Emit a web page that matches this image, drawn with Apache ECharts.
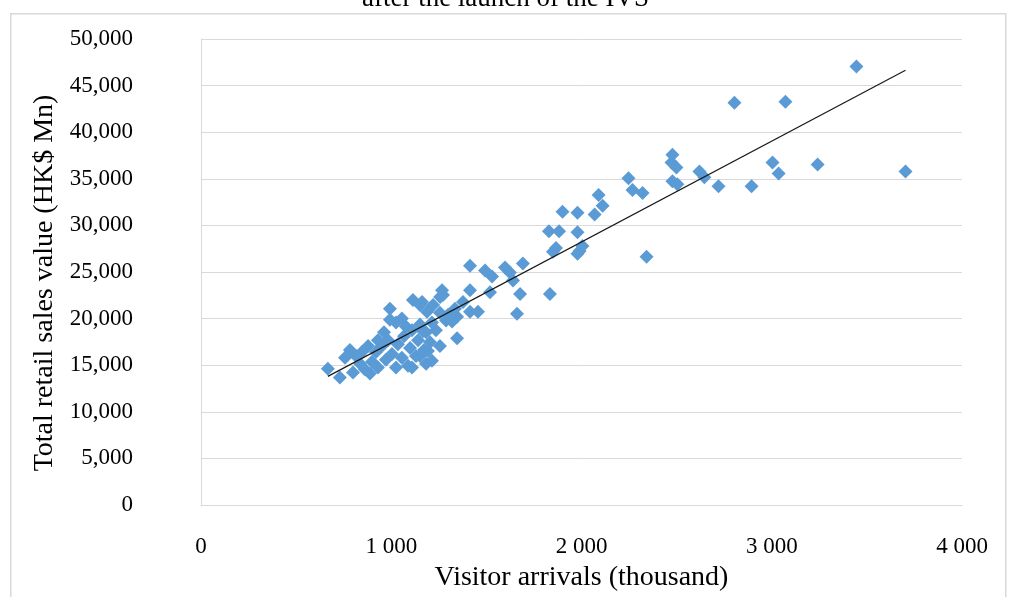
<!DOCTYPE html>
<html>
<head>
<meta charset="utf-8">
<script src="https://cdn.jsdelivr.net/npm/echarts@6/dist/echarts.min.js"></script>
<style>html,body{margin:0;padding:0;background:#fff}#c{width:1011px;height:597px}</style>
</head>
<body>
<div id="c"></div>
<script>
const chartTitle = "after the launch of the IVS";
const xAxisTitle = "Visitor arrivals (thousand)";
const yAxisTitle = "Total retail sales value (HK$ Mn)";
const xTicks = [0, 1000, 2000, 3000, 4000];
const yTicks = [0, 5000, 10000, 15000, 20000, 25000, 30000, 35000, 40000, 45000, 50000];

const visitorArrivals = [
  3445, 2804, 3072, 3703, 2478, 2473, 2499, 2478, 2504, 2620,
  2646, 2720, 2894, 3004, 3036, 3241, 2321, 2247, 2268, 2090,
  2111, 2069, 1900, 1979, 1829, 1882, 1979, 1866, 1850, 2005,
  1979, 1990, 2342, 1692, 1677, 1834, 1414, 1493, 1530, 1598,
  1624, 1640, 1661, 1519, 1414, 1267, 1257, 1335, 1377, 1414,
  1456, 1188, 1346, 1220, 1162, 1299, 1320, 1167, 1346, 1214,
  1193, 993, 993, 1114, 1151, 667, 730, 799, 1272,
  757, 783, 815, 836, 862, 888, 899, 930, 920, 951,
  972, 983, 1004, 1025, 1035, 1056, 1067, 1088, 1099, 1109,
  1130, 1141, 1151, 1172, 1183, 1204, 1214, 1235, 1256, 1025,
  1056, 1077, 962, 930, 878, 846, 1109, 1151, 1183, 1256,
  1288, 1319
];
const retailSales = [
  47050, 43160, 43260, 35790, 37580, 36740, 36210, 34740, 34420, 35790,
  35160, 34210, 34210, 36740, 35580, 36530, 33470, 35050, 33790, 33260,
  32100, 31160, 31470, 31370, 29370, 29370, 29260, 27580, 27160, 27790,
  26950, 27260, 26630, 25900, 22630, 22630, 25680, 25160, 24530, 25470,
  24950, 24100, 20530, 22840, 23050, 23050, 22320, 21050, 21790, 20740,
  20740, 20740, 20210, 21470, 21790, 20420, 19680, 18630, 17890, 15470,
  16530, 21050, 19890, 22000, 21470, 14630, 13680, 14210, 22530,
  15790, 16630, 16000, 15160, 14530, 14100, 15370, 14740, 16420, 17050,
  15580, 17680, 16210, 14740, 17260, 15790, 18100, 14950, 16840, 18740,
  16000, 17680, 19370, 16630, 18530, 17470, 19580, 18740, 20630, 19580,
  20000, 19160, 18530, 17680, 17050, 16420, 14740, 16000, 15160, 17050,
  19790, 20000
];

const points = visitorArrivals.map((v, i) => [v, retailSales[i]]);

// linear trendline (least squares) over the data range
const n = points.length;
let sx = 0, sy = 0, sxx = 0, sxy = 0;
points.forEach(([x, y]) => { sx += x; sy += y; sxx += x * x; sxy += x * y; });
const slope = (n * sxy - sx * sy) / (n * sxx - sx * sx);
const intercept = (sy - slope * sx) / n;
const xMin = Math.min(...visitorArrivals), xMax = Math.max(...visitorArrivals);
const trend = [[xMin, intercept + slope * xMin], [xMax, intercept + slope * xMax]];

const chart = echarts.init(document.getElementById('c'), null, {renderer: 'canvas'});
const serif = '"Liberation Serif", "Times New Roman", serif';
chart.setOption({
  animation: false,
  backgroundColor: '#fff',
  textStyle: {fontFamily: serif},
  title: {
    text: chartTitle, left: 'center', top: -20,
    textStyle: {fontFamily: serif, fontSize: 27, fontWeight: 'normal', color: '#000'}
  },
  graphic: [{
    type: 'rect', left: 10, top: 13, z: -1,
    shape: {width: 995, height: 600},
    style: {fill: '#fff', stroke: '#d9d9d9', lineWidth: 1.5}
  }],
  grid: {left: 201, right: 49, top: 39, bottom: 83, containLabel: false},
  xAxis: {
    type: 'value', min: xTicks[0], max: xTicks[xTicks.length - 1], interval: 1000,
    name: xAxisTitle, nameLocation: 'middle', nameGap: 59,
    nameTextStyle: {fontFamily: serif, fontSize: 28, color: '#000'},
    axisLine: {show: true, lineStyle: {color: '#d9d9d9'}},
    axisTick: {show: false},
    splitLine: {show: false},
    axisLabel: {
      fontFamily: serif, fontSize: 23, color: '#000', margin: 30,
      formatter: v => String(v).replace(/\B(?=(\d{3})+(?!\d))/g, ' ')
    }
  },
  yAxis: {
    type: 'value', min: yTicks[0], max: yTicks[yTicks.length - 1], interval: 5000,
    name: yAxisTitle, nameLocation: 'middle', nameGap: 126, nameRotate: 90,
    nameTextStyle: {fontFamily: serif, fontSize: 28, color: '#000', padding: [0, 22, 0, 0]},
    axisLine: {show: true, lineStyle: {color: '#d9d9d9'}},
    axisTick: {show: false},
    splitLine: {show: true, lineStyle: {color: '#d9d9d9', width: 1}},
    axisLabel: {
      fontFamily: serif, fontSize: 23, color: '#000', margin: 68,
      align: 'right',
      formatter: v => v.toLocaleString('en-US')
    }
  },
  series: [{
    type: 'scatter', data: points, symbol: 'diamond', symbolSize: 14,
    itemStyle: {color: '#5B9BD5', opacity: 1}
  }, {
    type: 'line', data: trend, symbol: 'none', silent: true,
    lineStyle: {color: '#1a1a1a', width: 1.2}, z: 3
  }]
});
</script>
</body>
</html>
